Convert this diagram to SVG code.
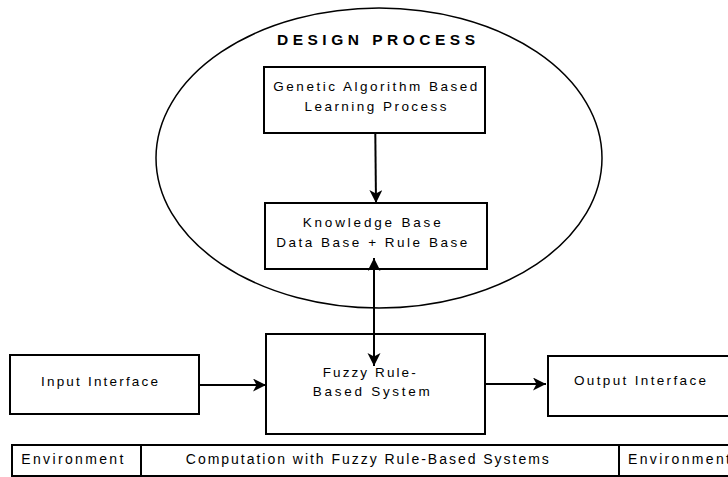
<svg xmlns="http://www.w3.org/2000/svg" width="728" height="477" viewBox="0 0 728 477">
  <style>
    .box { fill: #ffffff; stroke: #000000; stroke-width: 2; }
    .oval { fill: none; stroke: #000000; stroke-width: 1.5; }
    .lbl { font-family: "Liberation Sans", Arial, Helvetica, sans-serif; font-size: 13.5px; fill: #000000; text-anchor: middle; }
    .cell { font-size: 14px; }
    .title { font-family: "Liberation Sans", Arial, Helvetica, sans-serif; font-size: 15.5px; font-weight: bold; fill: #000000; text-anchor: middle; }
    .edge { fill: none; stroke: #000000; stroke-width: 2; }
  </style>
  <defs>
    <marker id="arrow" markerUnits="userSpaceOnUse" markerWidth="14" markerHeight="14" refX="13" refY="6.5" orient="auto-start-reverse">
      <path d="M0,0 L13,6.5 L0,13 L3.5,6.5 Z" fill="#000000"/>
    </marker>
  </defs>

  <rect width="728" height="477" fill="#ffffff"/>

  <!-- design process boundary -->
  <g id="design-process">
    <ellipse class="oval" cx="379" cy="158" rx="223" ry="150"/>
    <text class="title" x="376" y="44.5" textLength="198" lengthAdjust="spacing">DESIGN PROCESS</text>
  </g>

  <g id="ga-learning">
    <rect class="box" x="264" y="67" width="221" height="66"/>
    <text class="lbl" x="375.3" y="91.3" textLength="204" lengthAdjust="spacing">Genetic Algorithm Based</text>
    <text class="lbl" x="375.5" y="110.7" textLength="142" lengthAdjust="spacing">Learning Process</text>
  </g>

  <g id="knowledge-base">
    <rect class="box" x="265" y="203" width="222" height="66"/>
    <text class="lbl" x="371.7" y="226.7" textLength="138" lengthAdjust="spacing">Knowledge Base</text>
    <text class="lbl" x="371.7" y="246.7" textLength="191" lengthAdjust="spacing">Data Base + Rule Base</text>
  </g>

  <g id="input-interface">
    <rect class="box" x="10" y="355" width="189" height="59"/>
    <text class="lbl" x="99.5" y="386" textLength="117" lengthAdjust="spacing">Input Interface</text>
  </g>

  <g id="fuzzy-system">
    <rect class="box" x="266" y="334" width="219" height="100"/>
    <text class="lbl" x="369.2" y="377" textLength="93" lengthAdjust="spacing">Fuzzy Rule-</text>
    <text class="lbl" x="371.3" y="396" textLength="117" lengthAdjust="spacing">Based System</text>
  </g>

  <g id="output-interface">
    <rect class="box" x="548" y="356" width="190" height="60"/>
    <text class="lbl" x="640" y="385" textLength="132" lengthAdjust="spacing">Output Interface</text>
  </g>

  <!-- bottom strip -->
  <g id="context-strip">
    <rect class="box" x="12" y="445" width="726" height="31"/>
    <line class="edge" x1="141" y1="445" x2="141" y2="476"/>
    <line class="edge" x1="619" y1="445" x2="619" y2="476"/>
    <text class="lbl cell" x="72.3" y="464.3" textLength="102" lengthAdjust="spacing">Environment</text>
    <text class="lbl cell" x="367.3" y="464.3" textLength="363" lengthAdjust="spacing">Computation with Fuzzy Rule-Based Systems</text>
    <text class="lbl cell" x="679" y="464.3" textLength="102" lengthAdjust="spacing">Environment</text>
  </g>

  <g id="connectors">
    <path class="edge" d="M375.3,133 L376,203" marker-end="url(#arrow)"/>
    <path class="edge" d="M374,258 L374,366" marker-start="url(#arrow)" marker-end="url(#arrow)"/>
    <path class="edge" d="M199,385 L266,385" marker-end="url(#arrow)"/>
    <path class="edge" d="M485,384 L546,384" marker-end="url(#arrow)"/>
  </g>
</svg>
